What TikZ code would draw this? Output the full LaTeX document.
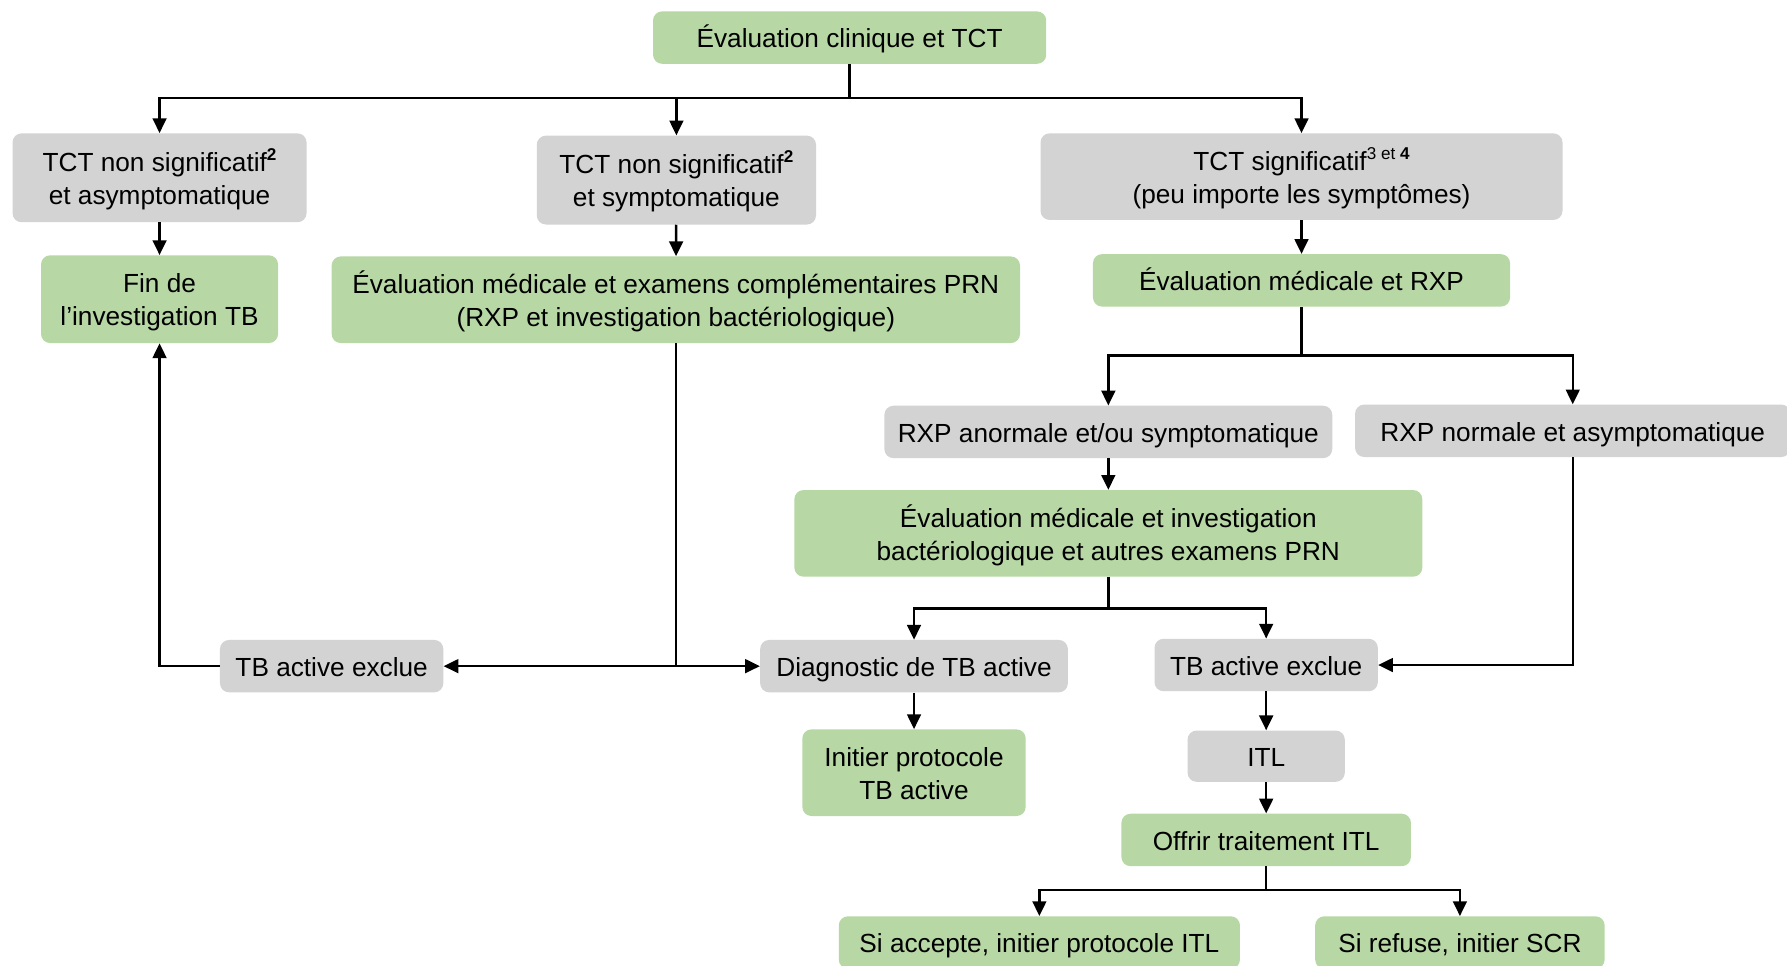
\documentclass[tikz,border=0pt]{standalone}
\usepackage{fontspec}
\setmainfont{Liberation Sans}
\usetikzlibrary{arrows.meta}
\definecolor{boxgreen}{RGB}{183,215,165}
\definecolor{boxgray}{RGB}{211,211,211}
\newcommand{\supr}[1]{\raisebox{0.42em}{\fontsize{15}{15}\selectfont #1}}
\newcommand{\tx}[1]{\raisebox{-3.2pt}[\height][\depth]{\begin{tabular}{@{}c@{}}#1\end{tabular}}}
\tikzset{
  base/.style={rounded corners=8pt, inner sep=0pt,
    font=\fontsize{23}{29}\selectfont, text=black},
  gbox/.style={base, fill=boxgreen},
  kbox/.style={base, fill=boxgray},
  conn/.style={line width=2.2pt, draw=black},
  arr/.style={conn, -{Triangle[length=13pt,width=12pt]}}
}
\begin{document}
\begin{tikzpicture}[x=1pt,y=-1pt]
\useasboundingbox (0,0) rectangle (1568,847);
% nodes
\node[gbox, minimum width=345pt, minimum height=46pt] (A) at (745.5,33) {\tx{Évaluation clinique et TCT}};
\node[kbox, minimum width=258pt, minimum height=78pt] (B) at (140,156) {\tx{TCT non significatif\supr{\textbf{2}}\\et asymptomatique}};
\node[kbox, minimum width=245pt, minimum height=78pt] (C) at (593.5,158) {\tx{TCT non significatif\supr{\textbf{2}}\\et symptomatique}};
\node[kbox, minimum width=458pt, minimum height=76pt] (D) at (1142,155) {\tx{TCT significatif\supr{3 et \textbf{4}}\\(peu importe les symptômes)}};
\node[gbox, minimum width=208pt, minimum height=77pt] (E) at (140,262.5) {\tx{Fin de\\l’investigation TB}};
\node[gbox, minimum width=604pt, minimum height=76pt] (F) at (593,263) {\tx{Évaluation médicale et examens complémentaires PRN\\(RXP et investigation bactériologique)}};
\node[gbox, minimum width=366pt, minimum height=46pt] (G) at (1142,246) {\tx{Évaluation médicale et RXP}};
\node[kbox, minimum width=393pt, minimum height=46pt] (H) at (972.5,379) {\tx{RXP anormale et/ou symptomatique}};
\node[kbox, minimum width=382pt, minimum height=46pt] (I) at (1380,378) {\tx{RXP normale et asymptomatique}};
\node[gbox, minimum width=551pt, minimum height=76pt] (J) at (972.5,468) {\tx{Évaluation médicale et investigation\\bactériologique et autres examens PRN}};
\node[kbox, minimum width=196pt, minimum height=46pt] (K) at (291,584.5) {\tx{TB active exclue}};
\node[kbox, minimum width=270pt, minimum height=46pt] (L) at (802,584.5) {\tx{Diagnostic de TB active}};
\node[kbox, minimum width=196pt, minimum height=46pt] (M) at (1111,583.5) {\tx{TB active exclue}};
\node[gbox, minimum width=196pt, minimum height=76pt] (N) at (802,678) {\tx{Initier protocole\\TB active}};
\node[kbox, minimum width=138pt, minimum height=45pt] (O) at (1111,663.5) {\tx{ITL}};
\node[gbox, minimum width=254pt, minimum height=46pt] (P) at (1111,737) {\tx{Offrir traitement ITL}};
\node[gbox, minimum width=352pt, minimum height=46pt] (Q) at (912,827) {\tx{Si accepte, initier protocole ITL}};
\node[gbox, minimum width=254pt, minimum height=46pt] (R) at (1281,827) {\tx{Si refuse, initier SCR}};
% junction coordinates
\coordinate (jA) at (745.5,86);
\coordinate (jG) at (1142,312);
\coordinate (jJ) at (972.5,534);
\coordinate (jP) at (1111,781);
% connectors
\draw[arr] (A.south) -- (jA) -| (B.north);
\draw[arr] (jA) -| (C.north);
\draw[arr] (jA) -| (D.north);
\draw[arr] (B) -- (E);
\draw[arr] (C) -- (F);
\draw[arr] (D) -- (G);
\draw[arr] (G.south) -- (jG) -| (H.north);
\draw[arr] (jG) -| (I.north);
\draw[arr] (H) -- (J);
\draw[arr] (J.south) -- (jJ) -| (L.north);
\draw[arr] (jJ) -| (M.north);
\draw[arr] (F.south) |- (K.east);
\draw[arr] (F.south) |- (L.west);
\draw[arr] (K.west) -| (E.south);
\draw[arr] (I.south) |- (M.east);
\draw[arr] (L) -- (N);
\draw[arr] (M) -- (O);
\draw[arr] (O) -- (P);
\draw[arr] (P.south) -- (jP) -| (Q.north);
\draw[arr] (jP) -| (R.north);
\end{tikzpicture}
\end{document}
